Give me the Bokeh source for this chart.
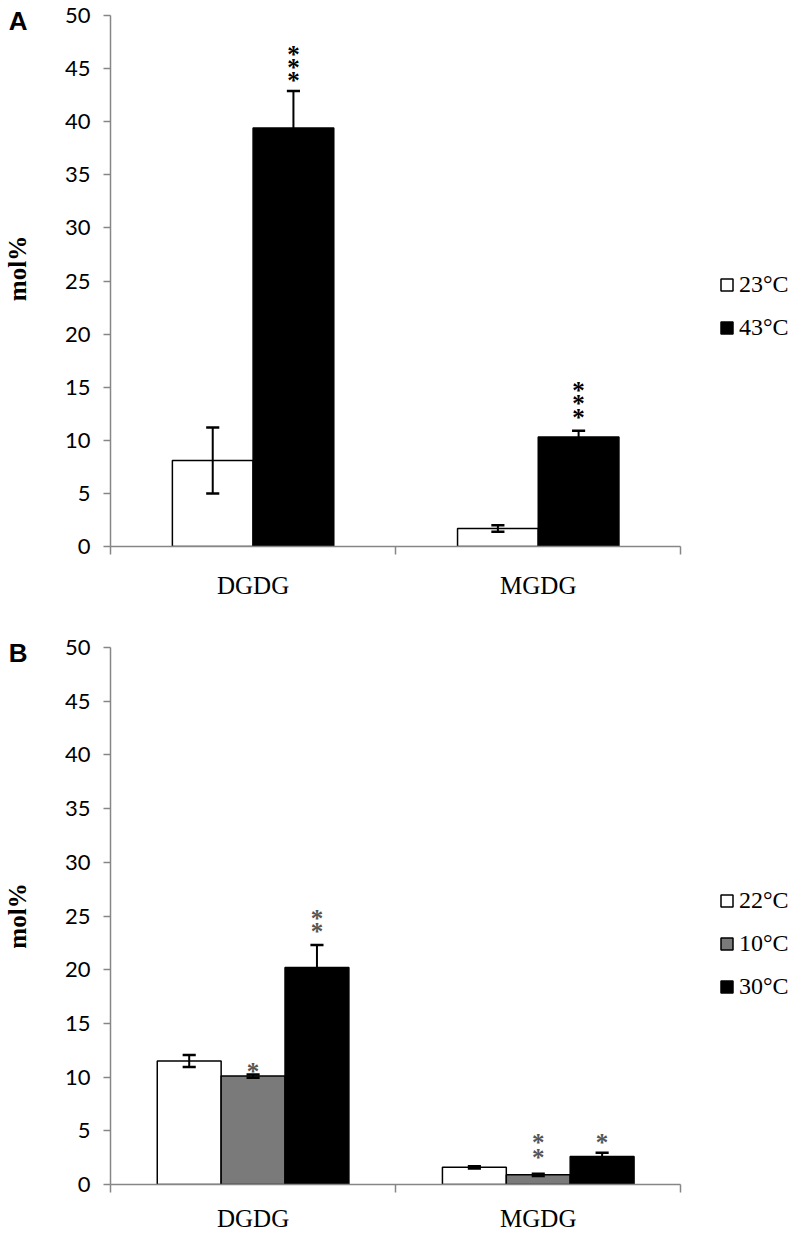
from bokeh.plotting import figure
from bokeh.models import Range1d, FixedTicker, Legend, LegendItem, LinearAxis
from bokeh.layouts import column
from bokeh.embed import file_html
from bokeh.resources import INLINE
from bokeh.core.properties import value

categories = ["DGDG", "MGDG"]
y_ticks = [0, 5, 10, 15, 20, 25, 30, 35, 40, 45, 50]

# Panel A
a_labels = ["23°C", "43°C"]
a_means = [[8.1, 1.7], [39.4, 10.3]]
a_errs = [[3.1, 0.3], [3.5, 0.6]]
a_colors = ["white", "black"]
a_stars = [[[], []], [[44.3, 45.5, 46.7], [12.5, 13.8, 15.1]]]

# Panel B
b_labels = ["22°C", "10°C", "30°C"]
b_means = [[11.5, 1.6], [10.1, 0.9], [20.2, 2.6]]
b_errs = [[0.55, 0.1], [0.15, 0.1], [2.1, 0.35]]
b_colors = ["white", "#7a7a7a", "black"]
b_stars = [[[], []], [[10.9], [2.9, 4.3]], [[23.9, 25.1], [4.3]]]

AXIS_COLOR = "#868686"
SERIF = "Liberation Serif"
FIG_W = 793
LEFT = 108
CAT_PX = 286  # pixel width of one category


def make_panel(letter, labels, means, errs, colors, stars, star_color, bar_w,
               height, border_top, border_bottom, legend_y, label_standoff, ylabel):
    x_end = (FIG_W - LEFT) / CAT_PX
    p = figure(width=FIG_W, height=height, x_range=Range1d(0, x_end), y_range=Range1d(0, 50),
               output_backend="svg", toolbar_location=None,
               min_border_left=LEFT, min_border_right=0,
               min_border_top=border_top, min_border_bottom=border_bottom)
    p.outline_line_color = None
    p.grid.visible = False
    p.background_fill_color = "white"

    n = len(labels)
    renderers = []
    for i in range(n):
        xs = [c + 0.5 + (i - (n - 1) / 2) * bar_w for c in range(len(categories))]
        r = p.vbar(x=xs, top=means[i], bottom=0, width=bar_w, fill_color=colors[i],
                   line_color="black", line_width=1.5)
        renderers.append(r)
        lo = [m - e for m, e in zip(means[i], errs[i])]
        hi = [m + e for m, e in zip(means[i], errs[i])]
        cap = 0.023
        p.segment(x0=xs, y0=lo, x1=xs, y1=hi, line_color="black", line_width=2)
        p.segment(x0=[x - cap for x in xs], y0=hi, x1=[x + cap for x in xs], y1=hi,
                  line_color="black", line_width=2.5)
        p.segment(x0=[x - cap for x in xs], y0=lo, x1=[x + cap for x in xs], y1=lo,
                  line_color="black", line_width=2.5)
        sx, sy = [], []
        for c, x in enumerate(xs):
            for s in stars[i][c]:
                sx.append(x)
                sy.append(s)
        if sx:
            p.text(x=sx, y=sy, text=["*"] * len(sx), text_align="center",
                   text_baseline="middle", y_offset=4,
                   text_font=value(SERIF), text_font_style="bold",
                   text_font_size="25px", text_color=star_color)

    # main y axis
    ya = p.yaxis[0]
    ya.ticker = FixedTicker(ticks=y_ticks)
    ya.minor_tick_line_color = None
    ya.major_tick_in = 0
    ya.major_tick_out = 7
    ya.axis_line_color = AXIS_COLOR
    ya.major_tick_line_color = AXIS_COLOR
    ya.axis_line_width = 1.5
    ya.major_tick_line_width = 1.5
    ya.major_label_standoff = 13
    ya.major_label_text_font = "Lato"
    ya.major_label_text_font_size = "22px"
    ya.major_label_text_color = "black"

    # outer left axis carrying the panel letter and the "mol%" title
    la = LinearAxis(ticker=FixedTicker(ticks=[49.5]),
                    major_label_overrides={49.5: letter})
    la.axis_line_color = None
    la.major_tick_line_color = None
    la.minor_tick_line_color = None
    la.major_tick_in = 0
    la.major_tick_out = 0
    la.major_label_standoff = 34
    la.major_label_text_font = "Liberation Sans"
    la.major_label_text_font_style = "bold"
    la.major_label_text_font_size = "26px"
    la.major_label_text_color = "black"
    la.axis_label = ylabel
    la.axis_label_text_font = SERIF
    la.axis_label_text_font_style = "bold"
    la.axis_label_text_font_size = "25px"
    la.axis_label_text_color = "black"
    la.axis_label_standoff = -25
    p.add_layout(la, "left")

    # x axis: labels at category centres, tick marks at category boundaries
    xa = p.xaxis[0]
    xa.bounds = (0, 2)
    xa.ticker = FixedTicker(ticks=[0.5, 1.5], minor_ticks=[0, 1, 2])
    xa.major_label_overrides = {0.5: categories[0], 1.5: categories[1]}
    xa.major_tick_line_color = None
    xa.major_tick_in = 0
    xa.major_tick_out = 0
    xa.minor_tick_in = 0
    xa.minor_tick_out = 8
    xa.minor_tick_line_color = AXIS_COLOR
    xa.minor_tick_line_width = 1.5
    xa.major_label_standoff = label_standoff
    xa.major_label_text_font = SERIF
    xa.major_label_text_font_size = "25px"
    xa.major_label_text_color = "black"
    xa.axis_line_color = AXIS_COLOR
    xa.axis_line_width = 1.5

    legend = Legend(items=[LegendItem(label=l, renderers=[r]) for l, r in zip(labels, renderers)],
                    location=(609, legend_y))
    legend.border_line_color = None
    legend.background_fill_alpha = 0
    legend.padding = 0
    legend.margin = 0
    legend.spacing = 16
    legend.glyph_width = 15
    legend.glyph_height = 15
    legend.label_height = 15
    legend.label_standoff = 5
    legend.label_text_font = SERIF
    legend.label_text_font_size = "24px"
    legend.label_text_color = "black"
    p.add_layout(legend)
    return p


pA = make_panel("A", a_labels, a_means, a_errs, a_colors, a_stars, "black", 0.283,
                height=620, border_top=15, border_bottom=74, legend_y=205,
                label_standoff=17, ylabel="\u00a0\u00a0\u00a0\u00a0mol%")
pB = make_panel("B", b_labels, b_means, b_errs, b_colors, b_stars, "#555555", 0.224,
                height=614, border_top=27, border_bottom=49, legend_y=184,
                label_standoff=12, ylabel="mol%")

layout = column(pA, pB, spacing=0)
open("out.html", "w").write(file_html(layout, INLINE))
